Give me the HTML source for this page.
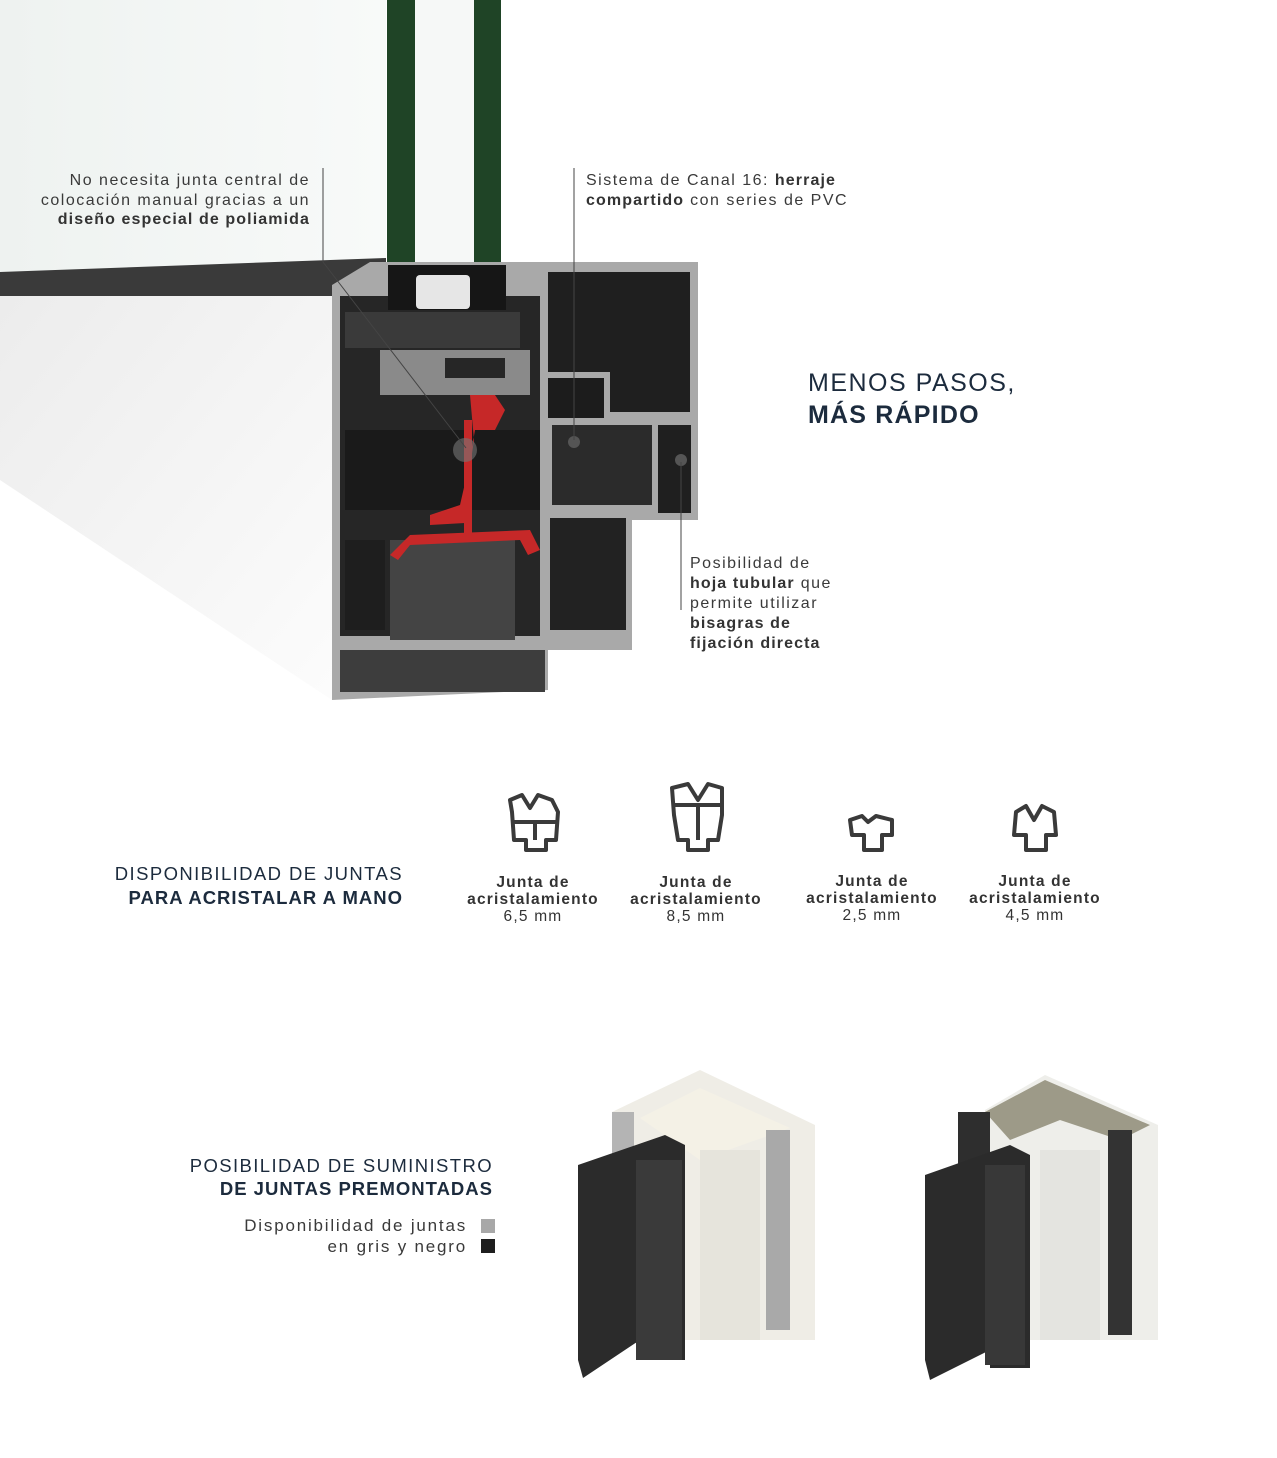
<!DOCTYPE html>
<html><head><meta charset="utf-8"><style>
html,body{margin:0;padding:0;background:#fff;}
body{width:1277px;height:1458px;position:relative;overflow:hidden;font-family:"Liberation Sans",sans-serif;color:#333;}
.t{position:absolute;font-size:16px;line-height:19.5px;white-space:nowrap;color:#3a3a3a;letter-spacing:1.5px;}
.t b{color:#333;letter-spacing:1.1px;}
.h{position:absolute;white-space:nowrap;color:#1c2b3d;}
.j{position:absolute;font-size:15.5px;line-height:17px;text-align:center;width:180px;color:#333;letter-spacing:1.2px;}
</style></head><body>
<svg width="1277" height="1458" style="position:absolute;left:0;top:0">
<defs>
<linearGradient id="gl" x1="0" y1="0" x2="1" y2="0"><stop offset="0" stop-color="#eef2f0"/><stop offset="1" stop-color="#f8faf9"/></linearGradient>
<linearGradient id="wf" x1="0" y1="0" x2="1" y2="1"><stop offset="0" stop-color="#ececec"/><stop offset="1" stop-color="#fcfcfc"/></linearGradient>
</defs>
<rect x="0" y="0" width="386" height="272" fill="url(#gl)"/>
<rect x="414" y="0" width="60" height="265" fill="#f6f8f7"/>
<rect x="387" y="0" width="28" height="268" fill="#1f4426"/>
<rect x="474" y="0" width="27" height="268" fill="#1f4426"/>
<polygon points="0,272 386,258 386,280 340,296 0,296" fill="#3a3a3a"/>
<polygon points="0,296 332,296 332,700 0,480" fill="url(#wf)"/>
<polygon points="332,285 370,262 698,262 698,520 632,520 632,650 548,650 548,690 332,700" fill="#a9a9a9"/>
<rect x="340" y="296" width="200" height="340" fill="#262626"/>
<rect x="548" y="272" width="142" height="140" fill="#1f1f1f"/>
<rect x="548" y="372" width="62" height="46" fill="#a9a9a9"/>
<rect x="548" y="378" width="56" height="40" fill="#1c1c1c"/>
<rect x="612" y="272" width="78" height="140" fill="#1f1f1f"/>
<rect x="658" y="425" width="33" height="88" fill="#1f1f1f"/>
<rect x="552" y="425" width="100" height="80" fill="#2b2b2b"/>
<rect x="550" y="518" width="76" height="112" fill="#222"/>
<rect x="345" y="430" width="195" height="80" fill="#1a1a1a"/>
<rect x="345" y="540" width="40" height="90" fill="#1e1e1e"/>
<rect x="388" y="265" width="118" height="45" fill="#161616"/>
<rect x="416" y="275" width="54" height="34" fill="#e6e6e6" rx="4"/>
<rect x="345" y="312" width="175" height="36" fill="#3a3a3a"/>
<rect x="380" y="350" width="150" height="45" fill="#8a8a8a"/>
<rect x="445" y="358" width="60" height="20" fill="#262626"/>
<rect x="390" y="540" width="125" height="100" fill="#444"/>
<rect x="340" y="650" width="205" height="42" fill="#3d3d3d"/>
<path d="M470 395 L495 395 L505 410 L495 430 L475 430 L468 470 L460 505 L430 515 L430 525 L465 523 L468 480 L474 440 Z" fill="#c62828"/>
<path d="M390 555 L410 535 L530 530 L540 550 L528 555 L520 540 L410 545 L398 560 Z" fill="#c62828"/>
<rect x="464" y="420" width="8" height="115" fill="#c62828"/>
<circle cx="465" cy="450" r="12" fill="#777" opacity=".6"/>
<circle cx="574" cy="442" r="6" fill="#555"/>
<circle cx="681" cy="460" r="6" fill="#555"/>
<polyline points="323,168 323,262 466,448" fill="none" stroke="#444" stroke-width="1"/>
<line x1="574" y1="168" x2="574" y2="440" stroke="#444" stroke-width="1"/>
<line x1="681" y1="462" x2="681" y2="610" stroke="#444" stroke-width="1"/>
<g fill="none" stroke="#3a3a3a" stroke-width="4" stroke-linejoin="round">
<path d="M510 800 L522 795 L530 808 L538 795 L552 800 L558 812 L556 840 L546 840 L546 850 L526 850 L526 840 L514 840 L512 812 Z"/><line x1="514" y1="822" x2="556" y2="822"/><line x1="535" y1="822" x2="535" y2="840"/>
<path d="M672 788 L688 784 L698 800 L708 784 L722 788 L722 815 L718 840 L708 840 L708 850 L688 850 L688 840 L678 840 L674 815 Z"/><line x1="674" y1="805" x2="722" y2="805"/><line x1="698" y1="805" x2="698" y2="840"/>
<path d="M850 820 L862 816 L868 822 L876 816 L892 820 L892 835 L882 835 L882 850 L864 850 L864 835 L852 835 Z"/>
<path d="M1016 812 L1026 806 L1034 820 L1042 806 L1054 812 L1056 835 L1046 835 L1046 850 L1026 850 L1026 835 L1014 835 Z"/>
</g>
<polygon points="612,1112 700,1070 815,1125 815,1340 612,1340" fill="#efede6"/>
<polygon points="640,1118 700,1088 790,1128 700,1160" fill="#f4f1e6"/>
<rect x="700" y="1150" width="60" height="190" fill="#e6e4dc"/>
<rect x="612" y="1112" width="22" height="120" fill="#b4b4b4"/>
<rect x="766" y="1130" width="24" height="200" fill="#a9a9a9"/>
<polygon points="578,1165 665,1135 685,1145 685,1360 640,1360 640,1340 583,1378 578,1360" fill="#2b2b2b"/>
<rect x="636" y="1160" width="46" height="200" fill="#3a3a3a"/>
<polygon points="985,1110 1045,1075 1158,1125 1158,1340 985,1340" fill="#eeeeea"/>
<polygon points="985,1112 1045,1080 1110,1108 1150,1125 1120,1140 1060,1120 1010,1140" fill="#9d9a88"/>
<rect x="958" y="1112" width="32" height="160" fill="#2e2e2e"/>
<rect x="1108" y="1130" width="24" height="205" fill="#333"/>
<rect x="1040" y="1150" width="60" height="190" fill="#e4e4e0"/>
<polygon points="925,1175 1010,1145 1030,1155 1030,1368 990,1368 990,1350 930,1380 925,1360" fill="#2b2b2b"/>
<rect x="985" y="1165" width="40" height="200" fill="#383838"/>
<rect x="481" y="1219" width="14" height="14" fill="#a8a8a8"/>
<rect x="481" y="1239" width="14" height="14" fill="#1e1e1e"/>
</svg>

<div class="t" style="right:967px;top:171px;text-align:right;">No necesita junta central de<br>colocación manual gracias a un<br><b>diseño especial de poliamida</b></div>
<div class="t" style="left:586px;top:171px;">Sistema de Canal 16: <b>herraje</b><br><b>compartido</b> con series de PVC</div>
<div class="h" style="left:808px;top:367px;font-size:25px;line-height:32px;letter-spacing:1.5px;">MENOS PASOS,<br><b style="letter-spacing:1.2px">MÁS RÁPIDO</b></div>
<div class="t" style="left:690px;top:554px;line-height:20px;">Posibilidad de<br><b>hoja tubular</b> que<br>permite utilizar<br><b>bisagras de</b><br><b>fijación directa</b></div>
<div class="h" style="right:874px;top:862px;font-size:18.5px;line-height:24px;text-align:right;letter-spacing:1.4px;">DISPONIBILIDAD DE JUNTAS<br><b style="letter-spacing:1px">PARA ACRISTALAR A MANO</b></div>
<div class="j" style="left:443px;top:874px;"><b>Junta de<br>acristalamiento</b><br>6,5 mm</div>
<div class="j" style="left:606px;top:874px;"><b>Junta de<br>acristalamiento</b><br>8,5 mm</div>
<div class="j" style="left:782px;top:873px;"><b>Junta de<br>acristalamiento</b><br>2,5 mm</div>
<div class="j" style="left:945px;top:873px;"><b>Junta de<br>acristalamiento</b><br>4,5 mm</div>
<div class="h" style="right:784px;top:1154px;font-size:18.5px;line-height:23px;text-align:right;letter-spacing:1.4px;">POSIBILIDAD DE SUMINISTRO<br><b style="letter-spacing:1px">DE JUNTAS PREMONTADAS</b></div>
<div class="t" style="right:810px;top:1215px;text-align:right;font-size:17px;line-height:21px;letter-spacing:1.8px;">Disponibilidad de juntas<br>en gris y negro</div>
</body></html>
